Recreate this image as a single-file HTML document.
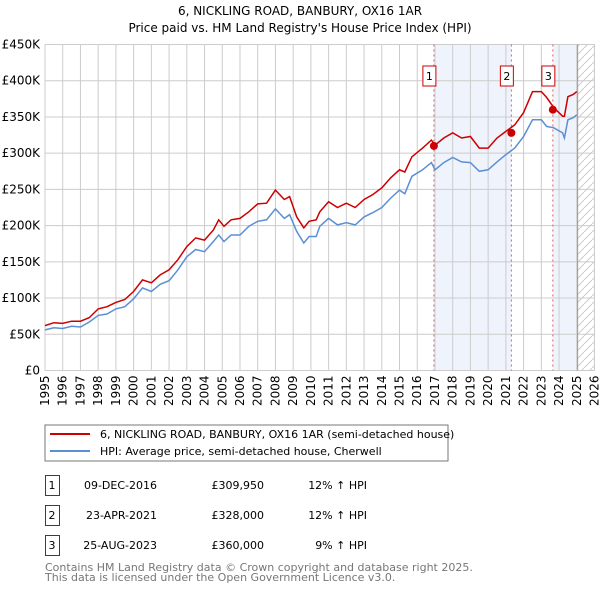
<!DOCTYPE html>
<html><head><meta charset="utf-8"><style>
html,body{margin:0;padding:0;background:#fff;}
svg{display:block;font-family:"DejaVu Sans","Liberation Sans",sans-serif;}
</style></head><body>
<svg id="chart" width="600" height="590" viewBox="0 0 600 590">
<text x="300" y="15" text-anchor="middle" font-size="12">6, NICKLING ROAD, BANBURY, OX16 1AR</text>
<text x="300" y="32" text-anchor="middle" font-size="12">Price paid vs. HM Land Registry's House Price Index (HPI)</text>
<g id="plot"></g>
<rect x="45" y="425" width="403" height="36" fill="#fff" stroke="#777"/>
<line x1="50" y1="434" x2="90" y2="434" stroke="#cc0000" stroke-width="2"/>
<text x="100" y="438" font-size="11">6, NICKLING ROAD, BANBURY, OX16 1AR (semi-detached house)</text>
<line x1="50" y1="451" x2="90" y2="451" stroke="#5b8fd4" stroke-width="2"/>
<text x="100" y="455" font-size="11">HPI: Average price, semi-detached house, Cherwell</text>
<g id="table" font-size="11"></g>
<text x="45" y="571" font-size="11" fill="#777">Contains HM Land Registry data © Crown copyright and database right 2025.</text>
<text x="45" y="581" font-size="11" fill="#777">This data is licensed under the Open Government Licence v3.0.</text>
</svg>
<script>
const hpiYears=[1995,1995.5,1996,1996.5,1997,1997.5,1998,1998.5,1999,1999.5,2000,2000.5,2001,2001.5,2002,2002.5,2003,2003.5,2004,2004.5,2004.8,2005.1,2005.5,2006,2006.5,2007,2007.5,2008,2008.5,2008.8,2009.2,2009.6,2009.9,2010.3,2010.5,2011,2011.5,2012,2012.5,2013,2013.5,2014,2014.5,2015,2015.3,2015.7,2016.3,2016.8,2017,2017.5,2018,2018.5,2019,2019.5,2020,2020.5,2021,2021.5,2022,2022.5,2023,2023.3,2023.7,2024.2,2024.3,2024.5,2024.8,2025.0];
const hpiValues=[56,59,58,61,60,67,76,78,85,88,99,114,109,119,124,139,157,167,164,178,187,178,187,187,199,206,208,223,210,215,192,176,185,185,199,210,201,204,201,212,218,225,238,249,244,268,277,287,277,287,294,288,287,275,277,288,298,307,323,346,346,337,335,328,321,346,349,353];
const priceValues=[62,66,65,68,68,73,85,88,94,98,109,125,121,132,139,153,171,183,180,194,208,199,208,210,219,230,231,249,236,240,212,197,206,208,219,233,225,231,225,236,243,252,266,277,274,295,307,318,311,321,328,321,323,307,307,321,330,339,356,385,385,377,363,351,351,378,381,385];
const saleYears=[2016.94,2021.31,2023.65];
const salePrices=[309.95,328,360];
const saleLabels=['1','2','3'];
const saleDates=['09-DEC-2016','23-APR-2021','25-AUG-2023'];
const salePriceText=['£309,950','£328,000','£360,000'];
const saleHpiText=['12% ↑ HPI','12% ↑ HPI','9% ↑ HPI'];
const yTicks=[0,50,100,150,200,250,300,350,400,450];
const yTickLabels=['£0','£50K','£100K','£150K','£200K','£250K','£300K','£350K','£400K','£450K'];
const xTicks=[1995,1996,1997,1998,1999,2000,2001,2002,2003,2004,2005,2006,2007,2008,2009,2010,2011,2012,2013,2014,2015,2016,2017,2018,2019,2020,2021,2022,2023,2024,2025,2026];

const X0=45,X1=594.5,Y0=370.5,Y1=44.5;
const xs=y=>X0+(y-1995)/(2026-1995)*(X1-X0);
const ys=v=>Y0-v/450*(Y0-Y1);
const NS='http://www.w3.org/2000/svg';
const plot=document.getElementById('plot');
function mk(tag,attrs,parent){const e=document.createElementNS(NS,tag);for(const k in attrs)e.setAttribute(k,attrs[k]);(parent||plot).appendChild(e);return e;}

let r=mk('rect',{x:xs(saleYears[0]),y:Y1,width:xs(saleYears[1])-xs(saleYears[0]),height:Y0-Y1,fill:'#eef3fc'});


r=mk('rect',{x:xs(saleYears[2]),y:Y1,width:xs(2025.05)-xs(saleYears[2]),height:Y0-Y1,fill:'#eef3fc'});


const defs=mk('defs',{});
const pat=mk('pattern',{id:'hatch',width:8,height:8,patternUnits:'userSpaceOnUse'},defs);
mk('path',{d:'M0,8 L8,0',stroke:'#ccc','stroke-width':1},pat);
r=mk('rect',{x:xs(2025.05),y:Y1,width:X1-xs(2025.05),height:Y0-Y1,fill:'url(#hatch)'});



yTicks.forEach((v,i)=>{
  const l=mk('line',{x1:X0,x2:X1,y1:ys(v),y2:ys(v),stroke:'#ccc','stroke-width':1});
  
  
  const t=mk('text',{x:40,y:ys(v)+4,'text-anchor':'end','font-size':12});
  t.textContent=yTickLabels[i];
  
  
});
xTicks.forEach(y=>{
  const l=mk('line',{x1:xs(y),x2:xs(y),y1:Y1,y2:Y0,stroke:'#ccc','stroke-width':1});
  
  
  const t=mk('text',{x:0,y:0,'text-anchor':'end','font-size':12,transform:`translate(${xs(y)+4},${Y0+5}) rotate(-90)`});
  t.textContent=y;
  
  
});
let l=mk('line',{x1:xs(2025.05),x2:xs(2025.05),y1:Y1,y2:Y0,stroke:'#999','stroke-width':1});



saleYears.forEach((y,i)=>{
  const v=mk('line',{x1:xs(y),x2:xs(y),y1:Y1,y2:Y0,stroke:'#e06060','stroke-width':1,'stroke-dasharray':'2,3'});
  
  
  const b=mk('rect',{x:xs(y)-11,y:66,width:13,height:20,fill:'#fff',stroke:'#cc0000'});
  
  
  const t=mk('text',{x:xs(y)-4.5,y:80,'text-anchor':'middle','font-size':11});
  t.textContent=saleLabels[i];
  
  
});

function path(vals){return hpiYears.map((y,i)=>(i?'L':'M')+xs(y).toFixed(1)+','+ys(vals[i]).toFixed(1)).join(' ');}
let p=mk('path',{d:path(hpiValues),fill:'none',stroke:'#5b8fd4','stroke-width':1.5});


p=mk('path',{d:path(priceValues),fill:'none',stroke:'#cc0000','stroke-width':1.5});


saleYears.forEach((y,i)=>{
  const c=mk('circle',{cx:xs(y),cy:ys(salePrices[i]),r:4,fill:'#cc0000'});
  
  
});

const tbl=document.getElementById('table');
saleYears.forEach((y,i)=>{
  const yy=475+i*30;
  const b=mk('rect',{x:45.5,y:yy+0.5,width:14,height:20,fill:'#fff',stroke:'#cc0000'},tbl);
  
  
  const cells=[[52,'middle',saleLabels[i]],[157,'end',saleDates[i]],[264,'end',salePriceText[i]],[367,'end',saleHpiText[i]]];
  const names=['table-index','table-date','table-price','table-hpi-diff'];
  cells.forEach((c,j)=>{
    const t=mk('text',{x:c[0],y:yy+14,'text-anchor':c[1]},tbl);
    t.textContent=c[2];
    
    
  });
});
</script>
</body></html>
